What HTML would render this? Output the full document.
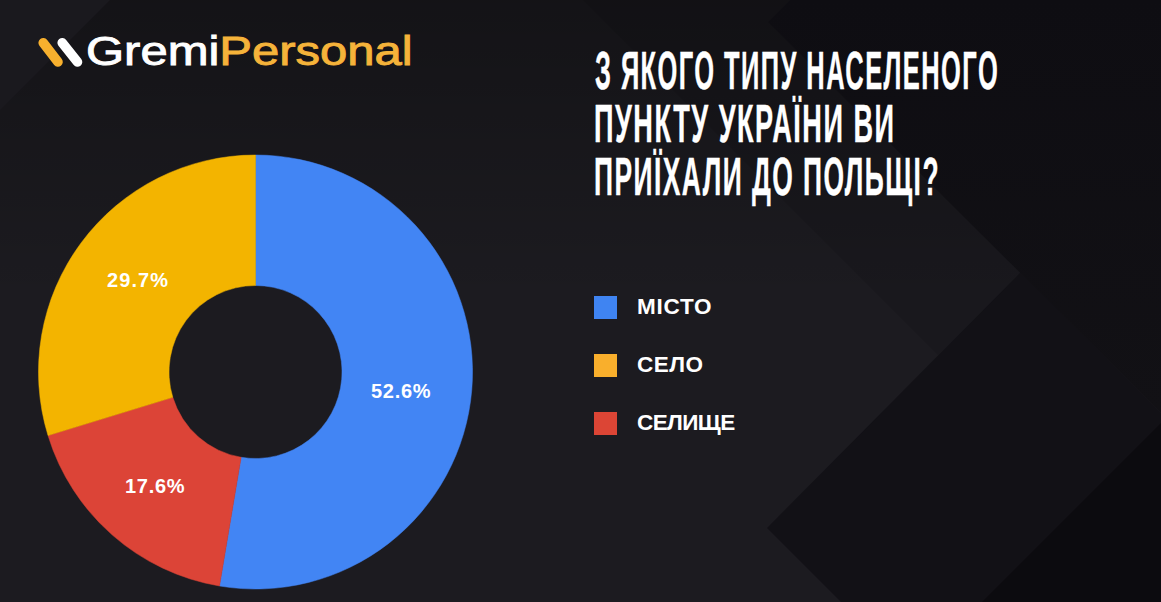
<!DOCTYPE html>
<html><head><meta charset="utf-8">
<style>
html,body{margin:0;padding:0;}
body{width:1161px;height:602px;overflow:hidden;position:relative;background:#1b1a1f;font-family:"Liberation Sans",sans-serif;}
#bg{position:absolute;left:0;top:0;}
.abs{position:absolute;white-space:nowrap;}
#logo{left:0;top:0;}
.brand{font-size:41px;line-height:1;transform-origin:0 0;}
.brand span{-webkit-text-stroke:0.9px currentColor;}
.title{color:#fff;font-weight:bold;font-size:54px;line-height:1;transform-origin:0 0;-webkit-text-stroke:0.4px #fff;letter-spacing:3px;}
.leg{color:#fff;font-weight:bold;font-size:22.5px;line-height:1;}
.sq{position:absolute;width:23px;height:23px;}
.pct{color:#fff;font-weight:bold;font-size:20px;line-height:1;letter-spacing:0.7px;}
</style></head><body>
<svg id="bg" width="1161" height="602" viewBox="0 0 1161 602">
  <defs>
    <linearGradient id="topg" x1="0" y1="0" x2="0" y2="1" gradientUnits="objectBoundingBox">
      <stop offset="0" stop-color="#000" stop-opacity="0.3"/>
      <stop offset="1" stop-color="#000" stop-opacity="0"/>
    </linearGradient>
    <linearGradient id="ag" x1="0" y1="0" x2="0" y2="413" gradientUnits="userSpaceOnUse">
      <stop offset="0" stop-color="#0e0d12"/>
      <stop offset="1" stop-color="#121115"/>
    </linearGradient>
  </defs>
  <rect width="1161" height="602" fill="#1c1b20"/>
  <polygon points="0,0 110,0 0,110" fill="#1a191e"/>
  <polygon points="583,0 790,0 768,22 1020.5,272.5 938,355" fill="#19181d"/>
  <polygon points="767,528 1020.5,272.5 1161,413 1161,602 841,602" fill="#121116"/>
  <polygon points="1161,423 1161,602 982,602" fill="#0c0b0f"/>
  <polygon points="110,0 1161,0 1161,300 0,300 0,110" fill="url(#topg)"/>
  <polygon points="790,0 1161,0 1161,413 768,22" fill="url(#ag)"/>
</svg>

<!-- logo icon -->
<svg class="abs" style="left:0;top:0" width="120" height="90" viewBox="0 0 120 90">
  <line x1="43.2" y1="42.8" x2="58" y2="62" stroke="#f7b02e" stroke-width="9.6" stroke-linecap="round"/>
  <line x1="62.2" y1="42.8" x2="77.5" y2="62" stroke="#ffffff" stroke-width="9.6" stroke-linecap="round"/>
</svg>
<div class="abs brand" style="left:85.5px;top:31px;transform:scaleX(1.195)"><span style="color:#fff">Gremi</span><span style="color:#f5b33a">Personal</span></div>

<!-- title -->
<div class="abs title" id="t1" style="left:594.5px;top:43px;transform:scaleX(0.472)">З ЯКОГО ТИПУ НАСЕЛЕНОГО</div>
<div class="abs title" id="t2" style="left:594px;top:96px;transform:scaleX(0.502)">ПУНКТУ УКРАЇНИ ВИ</div>
<div class="abs title" id="t3" style="left:594px;top:149px;transform:scaleX(0.489)">ПРИЇХАЛИ ДО ПОЛЬЩІ?</div>

<!-- donut -->
<svg class="abs" style="left:0;top:0" width="600" height="602" viewBox="0 0 600 602">
  <g id="donut">
<path d="M255.50,155.00 A217,217 0 1 1 219.50,585.99 L241.15,457.30 A86.5,86.5 0 1 0 255.50,285.50 Z" fill="#4285f4" stroke="#4285f4" stroke-width="0.5"/>
<path d="M219.50,585.99 A217,217 0 0 1 48.01,435.54 L172.79,397.33 A86.5,86.5 0 0 0 241.15,457.30 Z" fill="#dc4437" stroke="#dc4437" stroke-width="0.5"/>
<path d="M48.01,435.54 A217,217 0 0 1 255.50,155.00 L255.50,285.50 A86.5,86.5 0 0 0 172.79,397.33 Z" fill="#f3b400" stroke="#f3b400" stroke-width="0.5"/>
</g>
</svg>

<!-- labels -->
<div class="abs pct" style="left:107px;top:270px;letter-spacing:1.1px">29.7%</div>
<div class="abs pct" style="left:371px;top:381px">52.6%</div>
<div class="abs pct" style="left:125px;top:476px">17.6%</div>

<!-- legend -->
<div class="sq" style="left:594px;top:296px;background:#3f84f2"></div>
<div class="sq" style="left:594px;top:354px;background:#f9af2c"></div>
<div class="sq" style="left:594px;top:412px;background:#dc4535"></div>
<div class="abs leg" style="left:637px;top:296px;letter-spacing:0.8px">МІСТО</div>
<div class="abs leg" style="left:637px;top:354px;letter-spacing:0.5px">СЕЛО</div>
<div class="abs leg" style="left:637px;top:412px;letter-spacing:-0.6px">СЕЛИЩЕ</div>
</body></html>
